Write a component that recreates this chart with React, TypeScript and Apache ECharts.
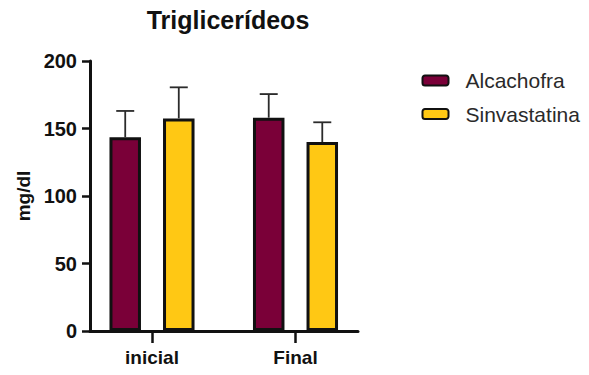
import React, { useEffect, useRef } from "react";
import * as echarts from "echarts";

// Triglyceride levels (mg/dl), mean and SD per group and time point
const categories = ["inicial", "Final"];
const seriesNames = ["Alcachofra", "Sinvastatina"];
const alcachofraMean = [143.5, 158];
const alcachofraSD = [19.5, 17.5];
const sinvastatinaMean = [157.5, 140];
const sinvastatinaSD = [23, 14.6];
const yTicks = [0, 50, 100, 150, 200];

const COLORS = ["#7a0038", "#ffc814"];
const BAR_WIDTH = 31.5;
const BAR_GAP = 0.7;
const FONT = "Liberation Sans, Arial, Helvetica, sans-serif";

function errorSeries(means: number[], sds: number[], side: number) {
  const half = (BAR_WIDTH * (1 + BAR_GAP)) / 2;
  return {
    type: "custom",
    xAxisIndex: 1,
    yAxisIndex: 1,
    z: 5,
    silent: true,
    data: means.map((m, i) => [i, m, sds[i]]),
    renderItem: (_params: any, api: any) => {
      const base = api.coord([api.value(0), api.value(1)]);
      const top = api.coord([api.value(0), api.value(1) + api.value(2)]);
      const x = base[0] + side * half;
      const capHalf = 9;
      const style = { stroke: "#2b2b2b", lineWidth: 1.8 };
      return {
        type: "group",
        children: [
          { type: "line", shape: { x1: x, y1: base[1], x2: x, y2: top[1] }, style },
          { type: "line", shape: { x1: x - capHalf, y1: top[1], x2: x + capHalf, y2: top[1] }, style },
        ],
      };
    },
  };
}

export default function App() {
  const ref = useRef<HTMLDivElement>(null);

  useEffect(() => {
    if (!ref.current) return;
    const chart = echarts.init(ref.current, null, { renderer: "svg" });
    const yMin = yTicks[0];
    const yMax = yTicks[yTicks.length - 1];
    const yInterval = yTicks[1] - yTicks[0];

    chart.setOption({
      animation: false,
      backgroundColor: "#ffffff",
      title: {
        text: "Triglicerídeos",
        left: 223,
        top: 2,
        textAlign: "center",
        textStyle: { fontFamily: FONT, fontWeight: "bold", fontSize: 25, color: "#111" },
      },
      legend: {
        data: seriesNames,
        orient: "vertical",
        left: 421.5,
        top: 70,
        padding: 0,
        itemWidth: 26,
        itemHeight: 10,
        itemGap: 12.5,
        textStyle: { fontFamily: FONT, fontSize: 21, color: "#2a2a2a", padding: [0, 0, 0, 12] },
      },
      grid: [
        { left: 90, top: 61, width: 268, height: 270 },
        { left: 80.25, top: 61, width: 287, height: 270 },
      ],
      xAxis: [
        {
          type: "category",
          gridIndex: 0,
          data: categories,
          axisLine: { show: true, lineStyle: { color: "#111", width: 3 } },
          axisTick: { show: false },
          axisLabel: { show: false },
        },
        {
          type: "category",
          gridIndex: 1,
          data: categories,
          axisLine: { show: false },
          axisTick: { show: true, alignWithLabel: true, length: 12, lineStyle: { color: "#111", width: 2.5 } },
          axisLabel: {
            margin: 17,
            fontFamily: FONT,
            fontWeight: "bold",
            fontSize: 19,
            color: "#111",
          },
        },
      ],
      yAxis: [
        {
          type: "value",
          gridIndex: 0,
          min: yMin,
          max: yMax,
          interval: yInterval,
          name: "mg/dl",
          nameLocation: "middle",
          nameRotate: 90,
          nameGap: 57,
          nameTextStyle: { fontFamily: FONT, fontWeight: "bold", fontSize: 19, color: "#111" },
          axisLine: { show: true, lineStyle: { color: "#111", width: 3 } },
          axisTick: { show: true, length: 8, lineStyle: { color: "#111", width: 2.5 } },
          axisLabel: { margin: 13, fontFamily: FONT, fontWeight: "bold", fontSize: 20, color: "#111" },
          splitLine: { show: false },
        },
        {
          type: "value",
          gridIndex: 1,
          min: yMin,
          max: yMax,
          interval: yInterval,
          show: false,
          splitLine: { show: false },
        },
      ],
      series: [
        {
          name: seriesNames[0],
          type: "bar",
          xAxisIndex: 1,
          yAxisIndex: 1,
          data: alcachofraMean,
          barWidth: BAR_WIDTH,
          barGap: `${BAR_GAP * 100}%`,
          itemStyle: { color: COLORS[0], borderColor: "#111", borderWidth: 3 },
        },
        {
          name: seriesNames[1],
          type: "bar",
          xAxisIndex: 1,
          yAxisIndex: 1,
          data: sinvastatinaMean,
          barWidth: BAR_WIDTH,
          barGap: `${BAR_GAP * 100}%`,
          itemStyle: { color: COLORS[1], borderColor: "#111", borderWidth: 3 },
        },
        errorSeries(alcachofraMean, alcachofraSD, -1),
        errorSeries(sinvastatinaMean, sinvastatinaSD, 1),
      ],
    });

    return () => chart.dispose();
  }, []);

  return <div ref={ref} style={{ width: 589, height: 375, position: "absolute", left: 0, top: 0 }} />;
}
